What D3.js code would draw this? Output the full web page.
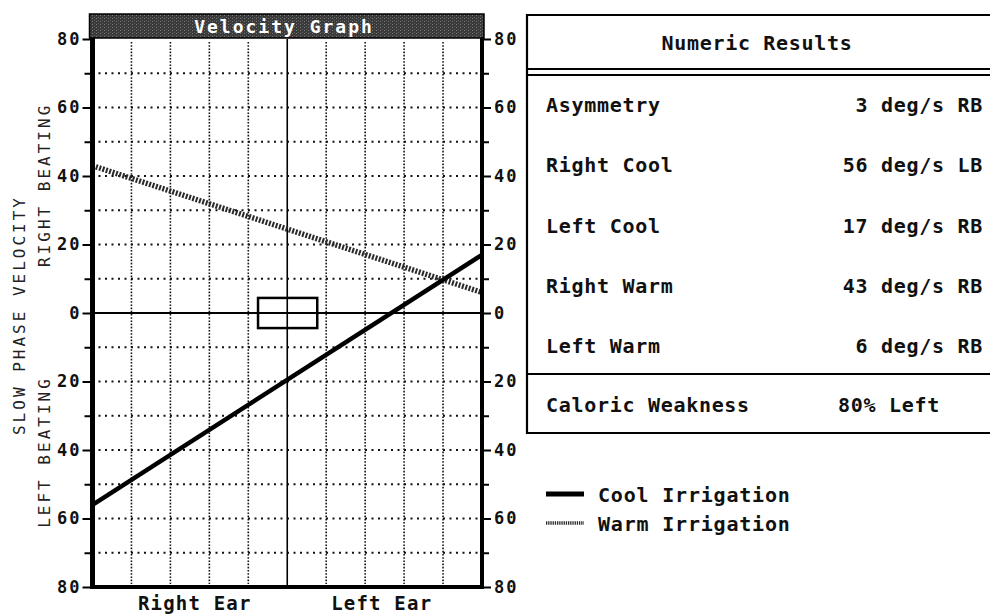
<!DOCTYPE html>
<html>
<head>
<meta charset="utf-8">
<script src="https://cdn.jsdelivr.net/npm/d3@7"></script>
<style>
  html, body { margin: 0; padding: 0; background: #fff; }
  svg { display: block; }
  text { font-family: "DejaVu Sans Mono", "Liberation Mono", monospace; fill: #111; }
</style>
</head>
<body>
<svg id="chart" width="990" height="615"></svg>
<script>
// ---------------- DATA ----------------
const chartTitle = "Velocity Graph";
const xCategories = ["Right Ear", "Left Ear"];     // left end / right end of graph
const coolValues = [-56, 17];                      // Cool irrigation: Right ear, Left ear (deg/s, + = right beating)
const warmValues = [43, 6];                        // Warm irrigation: Right ear, Left ear
const yMajorTicks = [80, 60, 40, 20, 0, -20, -40, -60, -80];
const yMinorTicks = [70, 50, 30, 10, -10, -30, -50, -70];
const yGridValues = [70, 60, 50, 40, 30, 20, 10, -10, -20, -30, -40, -50, -60, -70];
const xGridValues = [-40, -30, -20, -10, 10, 20, 30, 40];
const asymBoxX = [-7.5, 7.7];
const asymBoxY = [-4.4, 4.4];
const yAxisTitle = "SLOW PHASE VELOCITY";
const yUpperLabel = "RIGHT BEATING";
const yLowerLabel = "LEFT BEATING";
const tableTitle = "Numeric Results";
const resultLabels = ["Asymmetry", "Right Cool", "Left Cool", "Right Warm", "Left Warm"];
const resultValues = ["3 deg/s RB", "56 deg/s LB", "17 deg/s RB", "43 deg/s RB", "6 deg/s RB"];
const summaryLabel = "Caloric Weakness";
const summaryValue = "80% Left";
const legendLabels = ["Cool Irrigation", "Warm Irrigation"];

// ---------------- LAYOUT ----------------
const svg = d3.select("#chart");
const x = d3.scaleLinear().domain([-50, 50]).range([92.5, 482]);
const y = d3.scaleLinear().domain([-80, 80]).range([587, 39]);

const defs = svg.append("defs");
const pat = defs.append("pattern").attr("id", "tex").attr("patternUnits", "userSpaceOnUse")
  .attr("width", 4).attr("height", 3);
pat.append("rect").attr("width", 4).attr("height", 3).attr("fill", "#3a3a3a");
pat.append("rect").attr("x", 0).attr("y", 0).attr("width", 1).attr("height", 1).attr("fill", "#7a7a7a");
pat.append("rect").attr("x", 2).attr("y", 2).attr("width", 1).attr("height", 1).attr("fill", "#5e5e5e");

const g = svg.append("g");

// grid: horizontal dotted
g.append("g").selectAll("line").data(yGridValues).join("line")
  .attr("x1", x(-50) + 6).attr("x2", x(50) - 4)
  .attr("y1", d => y(d)).attr("y2", d => y(d))
  .attr("stroke", "#111").attr("stroke-width", 2)
  .attr("stroke-dasharray", "2,4.5");

// grid: vertical dotted
g.append("g").selectAll("line").data(xGridValues).join("line")
  .attr("x1", d => x(d)).attr("x2", d => x(d))
  .attr("y1", y(80) + 3).attr("y2", y(-80) - 3)
  .attr("stroke", "#111").attr("stroke-width", 1.6)
  .attr("stroke-dasharray", "1.6,1.6");

// center vertical + zero line
g.append("line").attr("x1", x(0)).attr("x2", x(0)).attr("y1", y(80)).attr("y2", y(-80))
  .attr("stroke", "#000").attr("stroke-width", 1.6);
g.append("line").attr("x1", x(-50)).attr("x2", x(50)).attr("y1", y(0)).attr("y2", y(0))
  .attr("stroke", "#000").attr("stroke-width", 1.8);

// asymmetry box
g.append("rect")
  .attr("x", x(asymBoxX[0])).attr("y", y(asymBoxY[1]))
  .attr("width", x(asymBoxX[1]) - x(asymBoxX[0]))
  .attr("height", y(asymBoxY[0]) - y(asymBoxY[1]))
  .attr("fill", "none").attr("stroke", "#000").attr("stroke-width", 2.5);

// lines
const lineGen = d3.line().x(d => x(d[0])).y(d => y(d[1]));
g.append("path").datum([[-50, warmValues[0]], [50, warmValues[1]]])
  .attr("d", lineGen).attr("fill", "none")
  .attr("stroke", "#2a2a2a").attr("stroke-width", 5.5)
  .attr("stroke-dasharray", "2,1.5");
g.append("path").datum([[-50, coolValues[0]], [50, coolValues[1]]])
  .attr("d", lineGen).attr("fill", "none")
  .attr("stroke", "#000").attr("stroke-width", 4.5);

// frame: left, right, bottom
g.append("line").attr("x1", x(-50)).attr("x2", x(-50)).attr("y1", 14).attr("y2", y(-80) + 2)
  .attr("stroke", "#000").attr("stroke-width", 5);
g.append("line").attr("x1", x(50)).attr("x2", x(50)).attr("y1", 14).attr("y2", y(-80) + 2)
  .attr("stroke", "#000").attr("stroke-width", 4);
g.append("line").attr("x1", x(-50) - 2).attr("x2", x(50) + 2).attr("y1", y(-80)).attr("y2", y(-80))
  .attr("stroke", "#000").attr("stroke-width", 4);

// title bar
g.append("rect").attr("x", x(-50) - 3).attr("y", 14).attr("width", x(50) - x(-50) + 5).attr("height", 24)
  .attr("fill", "url(#tex)").attr("stroke", "#000").attr("stroke-width", 1.5);
g.append("text").attr("x", 284).attr("y", 33).attr("text-anchor", "middle")
  .attr("font-size", 18).attr("font-weight", "bold").attr("letter-spacing", 2)
  .style("fill", "#fff").text(chartTitle);

// y axes (left and right) with custom ticks
const yAxisL = d3.axisLeft(y).tickValues(yMajorTicks).tickSize(8).tickPadding(3).tickFormat(d => Math.abs(d));
const yAxisR = d3.axisRight(y).tickValues(yMajorTicks).tickSize(8).tickPadding(3).tickFormat(d => Math.abs(d));
const yMinL = d3.axisLeft(y).tickValues(yMinorTicks).tickSize(6).tickFormat("");
const yMinR = d3.axisRight(y).tickValues(yMinorTicks).tickSize(6).tickFormat("");

function styleAxis(sel) {
  sel.select(".domain").remove();
  sel.selectAll(".tick line").attr("stroke", "#000").attr("stroke-width", 2);
  sel.selectAll(".tick text").style("font-family", "'DejaVu Sans Mono', monospace")
    .attr("font-size", 17).attr("font-weight", "bold").attr("letter-spacing", 2)
    .style("fill", "#111");
}
svg.append("g").attr("transform", `translate(${x(-50) - 2},0)`).call(yAxisL).call(styleAxis)
  .selectAll(".tick text").attr("dx", 2);
svg.append("g").attr("transform", `translate(${x(50) + 1},0)`).call(yAxisR).call(styleAxis);
svg.append("g").attr("transform", `translate(${x(-50) - 2},0)`).call(yMinL).call(styleAxis);
svg.append("g").attr("transform", `translate(${x(50) + 1},0)`).call(yMinR).call(styleAxis);

// x category labels
const xBand = d3.scalePoint().domain(xCategories).range([x(-24), x(24)]);
svg.append("g").selectAll("text").data(xCategories).join("text")
  .attr("x", d => xBand(d) + 1).attr("y", 610).attr("text-anchor", "middle")
  .attr("font-size", 19).attr("font-weight", "bold").attr("letter-spacing", 1.2)
  .text(d => d);

// y titles (rotated)
function vText(txt, cx, cy) {
  svg.append("text").attr("transform", `translate(${cx},${cy}) rotate(-90)`)
    .attr("text-anchor", "middle").attr("font-size", 16).attr("letter-spacing", 3)
    .style("fill", "#222").text(txt);
}
vText(yAxisTitle, 25, y(0) + 2);
vText(yUpperLabel, 50, y(38) + 2);
vText(yLowerLabel, 50, y(-40) + 2);

// ---------------- TABLE ----------------
const tbl = svg.append("g");
const tX0 = 527, tX1 = 995;
tbl.append("line").attr("x1", tX0).attr("x2", tX1).attr("y1", 15).attr("y2", 15).attr("stroke", "#000").attr("stroke-width", 2);
tbl.append("line").attr("x1", tX0).attr("x2", tX0).attr("y1", 14).attr("y2", 434).attr("stroke", "#000").attr("stroke-width", 2.2);
tbl.append("line").attr("x1", tX0).attr("x2", tX1).attr("y1", 69).attr("y2", 69).attr("stroke", "#000").attr("stroke-width", 2);
tbl.append("line").attr("x1", tX0).attr("x2", tX1).attr("y1", 75).attr("y2", 75).attr("stroke", "#000").attr("stroke-width", 2);
tbl.append("line").attr("x1", tX0).attr("x2", tX1).attr("y1", 374).attr("y2", 374).attr("stroke", "#000").attr("stroke-width", 2);
tbl.append("line").attr("x1", tX0).attr("x2", tX1).attr("y1", 433).attr("y2", 433).attr("stroke", "#000").attr("stroke-width", 2);

const tFont = { size: 20, ls: 0.7, w: "bold" };
tbl.append("text").attr("x", 757).attr("y", 50).attr("text-anchor", "middle")
  .attr("font-size", tFont.size).attr("font-weight", tFont.w).attr("letter-spacing", tFont.ls).text(tableTitle);

const rowY = d3.scalePoint().domain(resultLabels).range([112, 353]);
tbl.append("g").selectAll("text").data(resultLabels).join("text")
  .attr("x", 546).attr("y", d => rowY(d))
  .attr("font-size", tFont.size).attr("font-weight", tFont.w).attr("letter-spacing", tFont.ls).text(d => d);
tbl.append("g").selectAll("text").data(resultValues).join("text")
  .attr("x", 983).attr("y", (d, i) => rowY(resultLabels[i])).attr("text-anchor", "end")
  .attr("font-size", tFont.size).attr("font-weight", tFont.w).attr("letter-spacing", tFont.ls).text(d => d);
tbl.append("text").attr("x", 546).attr("y", 412)
  .attr("font-size", tFont.size).attr("font-weight", tFont.w).attr("letter-spacing", tFont.ls).text(summaryLabel);
tbl.append("text").attr("x", 838).attr("y", 412)
  .attr("font-size", tFont.size).attr("font-weight", tFont.w).attr("letter-spacing", tFont.ls).text(summaryValue);

// ---------------- LEGEND ----------------
const leg = svg.append("g");
const legY = d3.scalePoint().domain(legendLabels).range([494, 523]);
leg.append("line").attr("x1", 546).attr("x2", 584).attr("y1", legY(legendLabels[0])).attr("y2", legY(legendLabels[0]))
  .attr("stroke", "#000").attr("stroke-width", 5);
leg.append("line").attr("x1", 546).attr("x2", 584).attr("y1", legY(legendLabels[1])).attr("y2", legY(legendLabels[1]))
  .attr("stroke", "#2a2a2a").attr("stroke-width", 3.5).attr("stroke-dasharray", "1.3,0.9");
leg.selectAll("text").data(legendLabels).join("text")
  .attr("x", 598).attr("y", d => legY(d) + 8)
  .attr("font-size", 20).attr("font-weight", "bold").attr("letter-spacing", 0.8).text(d => d);
</script>
</body>
</html>
